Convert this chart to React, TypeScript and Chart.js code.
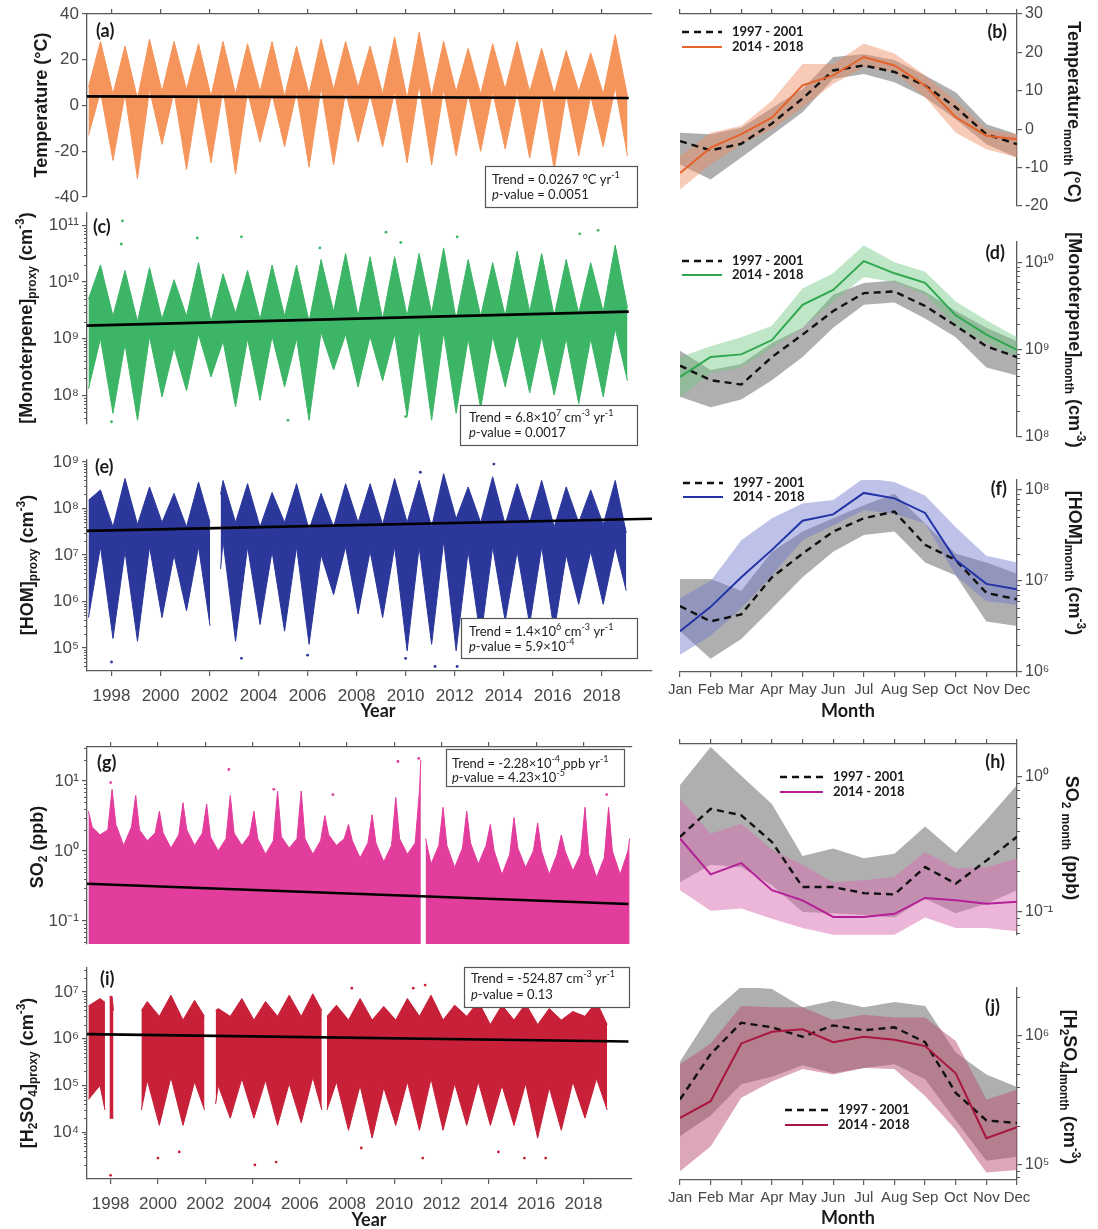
import React, { useEffect, useRef } from "react";
import { Chart, registerables } from "chart.js";

Chart.register(...registerables);

// ---------------- page / layout constants ----------------
const PAGE_W = 1098;
const PAGE_H = 1229;
const LEFT_X = 87;
const RIGHT_L = 680;
const RIGHT_R = 1017;
const Y_W = 60;
const TOP_H = 6;
const BOT_H = 44;
const FIRST_YEAR = 1997;
const X_MIN = 1997.0;
const X_MAX = 2020.05;

const FONT_SANS = "'Liberation Sans', Arial, Helvetica, sans-serif";
const FONT_CAL = "Lato, 'Open Sans', 'DejaVu Sans', sans-serif";
const AXIS_COLOR = "#5a5a5a";
const TICK_TEXT = "#474747";
const INK = "#1a1a1a";
const GRAY_BAND = "rgba(110,110,110,0.55)";

// ---------------- shared tick labels ----------------
const YEAR_TICKS = [1998, 2000, 2002, 2004, 2006, 2008, 2010, 2012, 2014, 2016, 2018];
const MONTHS = ["Jan", "Feb", "Mar", "Apr", "May", "Jun", "Jul", "Aug", "Sep", "Oct", "Nov", "Dec"];
const MONTH_TICKS = [1, 2, 3, 4, 5, 6, 7, 8, 9, 10, 11, 12];
const PERIODS = ["1997 - 2001", "2014 - 2018"];

// ---------------- (a) temperature, envelope of the daily scatter ----------------
const TEMP_TICKS = [-40, -20, 0, 20, 40];
const TEMP_WIN_HI = [8, 5, 3, 6, 7, 4, 5, 6, 4, 5, 7, 8, 5, 3, 4, 6, 5, 7, 6, 5, 6, 5, 4];
const TEMP_WIN_LO = [-13, -24, -32, -17, -28, -25, -30, -16, -18, -27, -26, -16, -18, -25, -26, -22, -20, -19, -23, -28, -22, -18, -22];
const TEMP_SUM_HI = [28, 26, 29, 28, 27, 28, 27, 28, 26, 29, 28, 26, 30, 32, 28, 25, 27, 28, 25, 24, 23, 31];
const TEMP_SUM_LO = [6, 5, 7, 6, 5, 7, 6, 5, 6, 8, 6, 5, 6, 9, 7, 5, 6, 6, 5, 5, 4, 8];
const TEMP_TREND_X = [1997.0, 2019.1];
const TEMP_TREND_Y = [4.0, 3.3];

// ---------------- (c) monoterpene proxy ----------------
const MONO_TICKS = [1e8, 1e9, 1e10, 1e11];
const MONO_WIN_HI = [5e9, 2.5e9, 2e9, 2.2e9, 2.5e9, 2e9, 2.8e9, 2.2e9, 2.5e9, 2e9, 3e9, 2.5e9, 2.2e9, 2.5e9, 2.8e9, 2.2e9, 2.5e9, 2.5e9, 3e9, 2.5e9, 2.8e9, 3e9, 3.5e9];
const MONO_WIN_LO = [1.3e8, 4.8e7, 3.6e7, 9.3e7, 1.2e8, 2.1e8, 6.2e7, 8.1e7, 1.4e8, 3.6e7, 2.8e8, 1.4e8, 1.8e8, 4.2e7, 3.6e7, 4.8e7, 5.8e7, 1.4e8, 1.1e8, 1.0e8, 7.1e7, 9.3e7, 1.8e8];
const MONO_SUM_HI = [2.0e10, 1.6e10, 1.8e10, 1.1e10, 2.2e10, 1.4e10, 1.6e10, 2.0e10, 2.0e10, 2.5e10, 3.2e10, 2.8e10, 2.8e10, 3.2e10, 4.0e10, 2.5e10, 2.2e10, 3.5e10, 3.2e10, 2.5e10, 2.2e10, 4.5e10];
const MONO_SUM_LO = [1.0e9, 8e8, 1.1e9, 7e8, 1.2e9, 9e8, 1.0e9, 1.1e9, 1.0e9, 1.3e9, 1.2e9, 1.1e9, 1.2e9, 1.5e9, 1.3e9, 1.0e9, 1.1e9, 1.2e9, 1.1e9, 1.0e9, 1.0e9, 1.5e9];
const MONO_SPARSE = [[1998.45, 1.2e11], [1998.4, 4.7e10], [2001.5, 6e10], [2003.3, 6.3e10], [2009.2, 7.6e10], [2009.8, 5e10], [2012.1, 6.3e10], [2017.1, 7.1e10], [2017.85, 8.2e10], [2006.5, 4e10], [1998.0, 3.4e7], [2010.0, 4.2e7], [2005.2, 3.6e7]];
const MONO_TREND_X = [1997.0, 2019.1];
const MONO_TREND_Y = [1.7e9, 3.0e9];

// ---------------- (e) HOM proxy ----------------
const HOM_TICKS = [1e5, 1e6, 1e7, 1e8, 1e9];
const HOM_WIN_HI = [1.5e8, 4e7, 4.5e7, 5e7, 4e7, 6e7, 5e7, 4e7, 5e7, 3.5e7, 4e7, 5e7, 4.5e7, 5e7, 4e7, 6e7, 5e7, 4.5e7, 5e7, 4e7, 5e7, 4.5e7, 3e7];
const HOM_WIN_LO = [4.5e5, 1.6e5, 1.4e5, 4.5e5, 6.3e5, 4.5e5, 1.4e5, 3.2e5, 2.3e5, 1.2e5, 1.4e6, 5.4e5, 4.5e5, 8.7e4, 1.2e5, 8.7e4, 1.6e5, 3.8e5, 3.2e5, 2.3e5, 8.7e5, 8.7e5, 1.7e6];
const HOM_SUM_HI = [2.5e8, 4.4e8, 2.9e8, 2.1e8, 3.7e8, 4.0e8, 3.4e8, 2.2e8, 3.4e8, 2.1e8, 3.4e8, 3.4e8, 4.4e8, 4.0e8, 5.6e8, 2.9e8, 4.8e8, 3.4e8, 4.0e8, 2.9e8, 2.5e8, 4.0e8];
const HOM_SUM_LO = [1.5e7, 1.2e7, 1.5e7, 1.0e7, 1.5e7, 2e7, 1.5e7, 1.2e7, 1.5e7, 1.0e7, 1.5e7, 1.2e7, 1.5e7, 1.5e7, 2e7, 1.2e7, 1.5e7, 1.2e7, 1.5e7, 1.0e7, 1.2e7, 1.5e7];
const HOM_GAPS = [[2002.02, 2002.45]];
const HOM_EDGES = [[2002.02, 5e7, 3e5], [2002.45, 2e8, 5e6]];
const HOM_SPARSE = [[2003.5, 1.2e9], [2011.5, 1.2e9], [2013.6, 9e8], [2010.6, 6e8], [1998.0, 5e4], [2010.0, 6e4], [2011.2, 4e4], [2012.1, 4e4], [2003.3, 6e4], [2006.0, 7e4], [2016.0, 1.5e5]];
const HOM_TREND_X = [1997.0, 2020.05];
const HOM_TREND_Y = [3.3e7, 6.0e7];

// ---------------- (g) SO2 ----------------
const SO2_TICKS = [0.1, 1, 10];
const SO2_WIN_HI = [3.7, 7.6, 6.2, 3.7, 4.9, 4.7, 6.2, 3.7, 7.2, 7.2, 3.2, 2.4, 3.3, 5.8, 7.2, 4.2, 3.7, 2.4, 3.0, 2.5, 1.7, 4.2, 4.2, 1.5];
const SO2_SPR_HI = [2.2, 2.4, 2.0, 1.8, 2.0, 1.6, 1.8, 1.5, 1.6, 1.5, 1.7, 1.4, 1.3, 1.5, 1.3, 1.2, 1.3, 1.0, 1.1, 1.0, 1.0, 0.9, 1.0];
const SO2_SUM_HI = [1.7, 1.2, 1.4, 1.1, 1.2, 1.0, 1.2, 0.9, 1.1, 0.9, 1.2, 0.8, 0.7, 0.9, 0.65, 0.58, 0.65, 0.46, 0.58, 0.46, 0.52, 0.42, 0.46];
const SO2_AUT_HI = [2.0, 2.2, 1.8, 1.7, 1.8, 1.5, 1.7, 1.4, 1.5, 1.4, 1.5, 1.3, 1.2, 1.3, 1.2, 1.1, 1.2, 0.9, 1.0, 0.9, 0.9, 0.8, 1.0];
const SO2_GAPS = [[2011.12, 2011.32]];
const SO2_EDGES = [[2011.12, 20, null], [2011.32, 1.5, null]];
const SO2_SPARSE = [[2011.03, 21], [2010.15, 19], [2014.7, 12.4], [2003.0, 14.6], [1998.0, 9.5], [2018.98, 6.4], [2007.4, 6.4], [2004.9, 7.6]];
const SO2_TREND_X = [1997.0, 2019.9];
const SO2_TREND_Y = [0.34, 0.175];

// ---------------- (i) H2SO4 proxy ----------------
const H2SO4_TICKS = [1e4, 1e5, 1e6, 1e7];
const H2SO4_WIN_HI = [5e6, 8e6, null, 3e6, 2.5e6, 2e6, 3e6, 2.5e6, 3e6, 3e6, 2e6, 2.5e6, 2.5e6, 2.5e6, 3e6, 2.5e6, 3e6, 2e6, 2.5e6, 2e6, 2.5e6, 3e6, 2e6];
const H2SO4_WIN_LO = [5e4, 2e4, null, 1.4e4, 1.4e4, 1.2e4, 2e4, 2e4, 1.4e4, 1.6e4, 1.4e4, 1.1e4, 7.5e3, 1.4e4, 1.1e4, 1.1e4, 1.4e4, 1.4e4, 1.4e4, 7.5e3, 1.1e4, 2e4, 3e4];
const H2SO4_SUM_HI = [7.2e6, null, 6.2e6, 8.5e6, 6.6e6, 4.4e6, 7.2e6, 6.2e6, 8.5e6, 9.1e6, 5.2e6, 7.2e6, 4.9e6, 7.2e6, 8.5e6, 5.2e6, 6.2e6, 5.2e6, 5.6e6, 4.4e6, 3.8e6, 6.2e6];
const H2SO4_SUM_LO = [1e5, null, 1.3e5, 1.5e5, 1.2e5, 1.0e5, 1.4e5, 1.3e5, 1.1e5, 1.5e5, 1.2e5, 1.0e5, 9e4, 1.2e5, 1.4e5, 1.1e5, 1.2e5, 1.0e5, 1.1e5, 9e4, 1.2e5, 1.4e5];
const H2SO4_GAPS = [[1997.76, 1997.95], [1998.12, 1999.3], [2001.97, 2002.44], [2006.93, 2007.15]];
const H2SO4_EDGES = [[1997.76, 6e6, 3e4], [1997.95, 8e6, 2e4], [1998.12, 4e6, 2e4], [1999.3, 4e6, 3e4], [2001.97, 3e6, 3e4], [2002.44, 4e6, 4e4], [2006.93, 4e6, 3e4], [2007.15, 3e6, 3e4]];
const H2SO4_SPARSE = [[1998.0, 1.2e3], [2000.0, 2.8e3], [2000.9, 3.8e3], [2004.1, 2e3], [2005.0, 2.3e3], [2011.2, 2.8e3], [2014.4, 3.8e3], [2015.5, 2.8e3], [2016.4, 2.8e3], [2008.6, 4.6e3], [2008.2, 1.2e7], [2011.3, 1.4e7], [2014.7, 1.9e7], [2010.8, 1.2e7]];
const H2SO4_TREND_X = [1997.0, 2019.9];
const H2SO4_TREND_Y = [1.25e6, 8.7e5];

// ---------------- (b) monthly temperature ----------------
const B_TICKS = [-20, -10, 0, 10, 20, 30];
const B_OLD = [-3.1, -5.5, -3.8, 1.5, 8.0, 15.3, 16.6, 14.9, 11.4, 5.7, -1.3, -3.9];
const B_OLD_HI = [-0.9, -1.3, 0.4, 5.5, 10.5, 18.8, 19.5, 18.0, 14.0, 9.6, 1.3, -1.3];
const B_OLD_LO = [-9.2, -13.1, -7.4, -1.5, 4.4, 13.1, 14.4, 12.2, 8.3, 2.6, -3.9, -7.4];
const B_NEW = [-11.4, -4.8, -1.3, 3.0, 11.4, 14.0, 18.8, 16.6, 11.4, 3.1, -1.7, -2.6];
const B_NEW_HI = [-7.0, -0.9, 0.9, 7.4, 17.0, 17.0, 22.3, 19.7, 14.0, 7.4, 0.0, -1.3];
const B_NEW_LO = [-15.7, -9.2, -3.9, 0.0, 5.7, 11.8, 16.2, 14.9, 8.3, -0.9, -5.2, -7.4];

// ---------------- (d) monthly monoterpene ----------------
const D_TICKS = [1e8, 1e9, 1e10];
const D_OLD = [6.6e8, 4.5e8, 4.0e8, 8.3e8, 1.5e9, 2.8e9, 4.5e9, 4.7e9, 3.2e9, 1.9e9, 1.1e9, 8.3e8];
const D_OLD_HI = [9.8e8, 5.9e8, 6.9e8, 1.2e9, 1.8e9, 4.3e9, 5.9e9, 6.3e9, 4.7e9, 2.8e9, 1.8e9, 1.26e9];
const D_OLD_LO = [2.9e8, 2.2e8, 2.7e8, 4.5e8, 8.3e8, 1.8e9, 3.3e9, 3.5e9, 2.3e9, 1.4e9, 6.3e8, 5.1e8];
const D_NEW = [4.9e8, 8.3e8, 8.9e8, 1.3e9, 3.3e9, 4.9e9, 1.05e10, 7.6e9, 5.9e9, 2.5e9, 1.5e9, 1.0e9];
const D_NEW_HI = [8.3e8, 1.1e9, 1.4e9, 1.9e9, 5.1e9, 7.6e9, 1.6e10, 1.02e10, 7.9e9, 3.6e9, 2.2e9, 1.4e9];
const D_NEW_LO = [2.9e8, 5.4e8, 6.3e8, 1.07e9, 1.8e9, 3.6e9, 6.9e9, 6.0e9, 4.3e9, 1.9e9, 1.2e9, 8.3e8];

// ---------------- (f) monthly HOM ----------------
const F_TICKS = [1e6, 1e7, 1e8];
const F_OLD = [5.3e6, 3.6e6, 4.3e6, 1.1e7, 2.0e7, 3.5e7, 4.9e7, 5.8e7, 2.5e7, 1.7e7, 7.4e6, 6.3e6];
const F_OLD_HI = [1.05e7, 1.05e7, 7.8e6, 2.1e7, 3.5e7, 4.9e7, 6.8e7, 9.1e7, 4.3e7, 2.0e7, 1.6e7, 1.2e7];
const F_OLD_LO = [2.8e6, 1.4e6, 2.3e6, 5.0e6, 1.1e7, 2.1e7, 3.2e7, 3.5e7, 1.6e7, 1.15e7, 3.6e6, 3.2e6];
const F_NEW = [2.8e6, 5.2e6, 1.1e7, 2.2e7, 4.6e7, 5.4e7, 9.3e7, 8.1e7, 5.6e7, 1.7e7, 9.3e6, 8.1e6];
const F_NEW_HI = [6.5e6, 1.0e7, 2.8e7, 4.9e7, 7.1e7, 7.8e7, 1.35e8, 1.23e8, 8.7e7, 3.9e7, 1.9e7, 1.6e7];
const F_NEW_LO = [1.55e6, 2.5e6, 5.0e6, 1.15e7, 2.8e7, 4.1e7, 6.0e7, 5.5e7, 4.3e7, 1.15e7, 6.0e6, 5.5e6];

// ---------------- (h) monthly SO2 ----------------
const H_TICKS = [0.1, 1];
const H_OLD = [0.36, 0.58, 0.52, 0.33, 0.153, 0.153, 0.138, 0.135, 0.215, 0.162, 0.24, 0.36];
const H_OLD_HI = [0.87, 1.66, 1.02, 0.63, 0.26, 0.295, 0.25, 0.27, 0.43, 0.275, 0.48, 0.87];
const H_OLD_LO = [0.166, 0.224, 0.214, 0.158, 0.1, 0.098, 0.095, 0.091, 0.126, 0.098, 0.115, 0.145];
const H_NEW = [0.35, 0.19, 0.23, 0.145, 0.122, 0.092, 0.092, 0.097, 0.127, 0.122, 0.115, 0.119];
const H_NEW_HI = [0.69, 0.38, 0.45, 0.29, 0.224, 0.166, 0.172, 0.182, 0.278, 0.21, 0.214, 0.25];
const H_NEW_LO = [0.145, 0.102, 0.106, 0.089, 0.076, 0.068, 0.068, 0.068, 0.091, 0.076, 0.076, 0.072];

// ---------------- (j) monthly H2SO4 ----------------
const J_TICKS = [1e5, 1e6];
const J_OLD = [3.2e5, 7.2e5, 1.26e6, 1.16e6, 9.8e5, 1.2e6, 1.1e6, 1.16e6, 8.9e5, 3.6e5, 2.2e5, 2.1e5];
const J_OLD_HI = [6.3e5, 1.48e6, 2.4e6, 2.3e6, 1.66e6, 1.86e6, 1.66e6, 1.82e6, 1.7e6, 7.4e5, 5.0e5, 4.0e5];
const J_OLD_LO = [1.66e5, 2.4e5, 4.2e5, 4.8e5, 5.9e5, 5.1e5, 5.6e5, 6.0e5, 4.6e5, 2.2e5, 1.07e5, 1.15e5];
const J_NEW = [2.3e5, 3.1e5, 8.7e5, 1.07e6, 1.12e6, 8.9e5, 9.8e5, 9.3e5, 8.3e5, 5.1e5, 1.6e5, 1.95e5];
const J_NEW_HI = [6.0e5, 8.7e5, 1.7e6, 1.66e6, 1.66e6, 1.32e6, 1.45e6, 1.38e6, 1.38e6, 9.1e5, 3.2e5, 3.8e5];
const J_NEW_LO = [8.9e4, 1.38e5, 3.3e5, 4.4e5, 5.5e5, 5.0e5, 5.6e5, 5.5e5, 3.4e5, 1.86e5, 8.7e4, 9.1e4];

// ---------------- helpers ----------------
const SUP: Record<string, string> = { "0": "⁰", "1": "¹", "2": "²", "3": "³", "4": "⁴", "5": "⁵", "6": "⁶", "7": "⁷", "8": "⁸", "9": "⁹", "-": "⁻" };
const sup = (s: string) => s.split("").map((c) => SUP[c] ?? c).join("");
const logLabel = (v: number) => {
  const e = Math.log10(v);
  const r = Math.round(e);
  return Math.abs(e - r) < 1e-6 ? "10" + sup(String(r)) : "";
};

type Run = { t: string; k?: "sub" | "sup"; it?: boolean };
type Row = { t: number; hi: number | null; lo: number | null };

function drawRich(ctx: CanvasRenderingContext2D, runs: Run[], x: number, y: number, o: { size: number; bold?: boolean; family: string; align?: string; rot?: number; color?: string }) {
  ctx.save();
  const fontOf = (r: Run) => `${r.it ? "italic " : ""}${o.bold ? "bold " : ""}${r.k ? Math.round(o.size * 0.66) : o.size}px ${o.family}`;
  const widths = runs.map((r) => {
    ctx.font = fontOf(r);
    return ctx.measureText(r.t).width;
  });
  const total = widths.reduce((a, b) => a + b, 0);
  ctx.translate(x, y);
  if (o.rot) ctx.rotate((o.rot * Math.PI) / 180);
  let cx = o.align === "center" ? -total / 2 : o.align === "right" ? -total : 0;
  ctx.fillStyle = o.color || INK;
  ctx.textAlign = "left";
  ctx.textBaseline = "middle";
  runs.forEach((r, i) => {
    ctx.font = fontOf(r);
    const dy = r.k === "sub" ? o.size * 0.32 : r.k === "sup" ? -o.size * 0.36 : 0;
    ctx.fillText(r.t, cx, dy);
    cx += widths[i];
  });
  ctx.restore();
}

function drawMinorTicks(chart: any, side: "left" | "right") {
  const s = chart.scales.y;
  const ctx = chart.ctx as CanvasRenderingContext2D;
  const lo = Math.floor(Math.log10(s.min));
  const hi = Math.ceil(Math.log10(s.max));
  const x0 = side === "left" ? chart.chartArea.left : chart.chartArea.right;
  const dir = side === "left" ? -1 : 1;
  ctx.save();
  ctx.strokeStyle = AXIS_COLOR;
  ctx.lineWidth = 1;
  for (let e = lo; e <= hi; e++) {
    for (let m = 2; m <= 9; m++) {
      const v = m * Math.pow(10, e);
      if (v < s.min || v > s.max) continue;
      const py = Math.round(s.getPixelForValue(v)) + 0.5;
      ctx.beginPath();
      ctx.moveTo(x0, py);
      ctx.lineTo(x0 + dir * 3, py);
      ctx.stroke();
    }
  }
  ctx.restore();
}

function buildRows(seasons: { off: number; hi: (number | null)[]; lo?: (number | null)[] }[], end: number, gaps: number[][], edges: (number | null)[][]): Row[] {
  const rows: Row[] = [];
  seasons.forEach((s) => {
    s.hi.forEach((v, k) => {
      const t = Math.min(Math.max(FIRST_YEAR + k + s.off, X_MIN), end);
      rows.push({ t, hi: v, lo: s.lo ? s.lo[k] : null });
    });
  });
  edges.forEach((e) => rows.push({ t: e[0] as number, hi: e[1], lo: e[2] }));
  const kept = rows.filter((r) => r.t <= end && !gaps.some((g) => r.t > g[0] && r.t < g[1]));
  gaps.forEach((g) => kept.push({ t: (g[0] + g[1]) / 2, hi: null, lo: null }));
  return kept.sort((a, b) => a.t - b.t);
}

const axisGrid = () => ({ display: true, drawOnChartArea: false, drawTicks: true, tickLength: 5, color: AXIS_COLOR, tickColor: AXIS_COLOR, tickWidth: 1.2, lineWidth: 1.2 });
const axisBorder = () => ({ display: true, color: AXIS_COLOR, width: 1.3 });

function yAxis(side: string, type: string, min: number, max: number, ticks: number[], size: number) {
  return {
    type,
    position: side,
    min,
    max,
    bounds: "data",
    afterBuildTicks: (s: any) => {
      s.ticks = ticks.map((v) => ({ value: v }));
    },
    afterFit: (s: any) => {
      s.width = Y_W;
    },
    grid: axisGrid(),
    border: axisBorder(),
    ticks: {
      autoSkip: false,
      color: TICK_TEXT,
      font: { family: FONT_SANS, size },
      padding: 3,
      callback: (v: number) => (type === "logarithmic" ? logLabel(v) : String(v)),
    },
  };
}

function xBottom(min: number, max: number, ticks: number[], labelFn: (v: number) => string, size: number, pad: number, show: boolean) {
  const ax: any = {
    type: "linear",
    position: "bottom",
    min,
    max,
    bounds: "data",
    display: show,
    afterBuildTicks: (s: any) => {
      s.ticks = ticks.map((v) => ({ value: v }));
    },
    grid: axisGrid(),
    border: axisBorder(),
    ticks: { autoSkip: false, maxRotation: 0, minRotation: 0, color: TICK_TEXT, font: { family: FONT_SANS, size }, padding: pad, callback: labelFn },
  };
  if (show) ax.afterFit = (s: any) => { s.height = BOT_H; };
  return ax;
}

function xTop(min: number, max: number, ticks: number[]) {
  return {
    type: "linear",
    position: "top",
    min,
    max,
    bounds: "data",
    display: true,
    afterBuildTicks: (s: any) => {
      s.ticks = ticks.map((v) => ({ value: v }));
    },
    afterFit: (s: any) => {
      s.height = TOP_H;
    },
    grid: axisGrid(),
    border: axisBorder(),
    ticks: { display: false },
  };
}

function makeConfig(datasets: any[], scales: any, padding: any, deco: (c: any) => void) {
  return {
    type: "line",
    data: { datasets },
    options: {
      responsive: false,
      animation: false,
      events: [],
      layout: { padding },
      plugins: { legend: { display: false }, tooltip: { enabled: false }, title: { display: false } },
      elements: { line: { tension: 0 }, point: { radius: 0 } },
      scales,
    },
    plugins: [{ id: "deco", afterDraw: (chart: any) => deco(chart) }],
  };
}

function leftPanel(p: any) {
  const padding = {
    left: LEFT_X - Y_W,
    right: PAGE_W - p.right,
    top: p.topAxis ? p.top - TOP_H : p.top,
    bottom: p.bottomAxis ? PAGE_H - p.bottom - BOT_H : PAGE_H - p.bottom,
  };
  const datasets: any[] = [
    { label: "trend", data: p.trendX.map((x: number, i: number) => ({ x, y: p.trendY[i] })), borderColor: "#000", borderWidth: 2.6, pointRadius: 0, fill: false },
    { label: "sparse", data: p.sparse.map((o: number[]) => ({ x: o[0], y: o[1] })), showLine: false, pointRadius: 1.4, pointBackgroundColor: p.color, pointBorderWidth: 0, borderColor: p.color, backgroundColor: p.color, fill: false },
    { label: "upper", data: p.rows.map((r: Row) => ({ x: r.t, y: r.hi })), borderColor: p.color, backgroundColor: p.color, borderWidth: 1, pointRadius: 0, fill: p.hasLo ? 3 : "start" },
  ];
  if (p.hasLo) datasets.push({ label: "lower", data: p.rows.map((r: Row) => ({ x: r.t, y: r.lo })), borderColor: p.color, borderWidth: 1, pointRadius: 0, fill: false });
  const scales: any = {
    x: xBottom(X_MIN, X_MAX, YEAR_TICKS, (v: number) => String(v), 17, 10, p.bottomAxis),
    y: yAxis("left", p.yType, p.yMin, p.yMax, p.yTicks, 17),
  };
  if (p.topAxis) scales.x2 = xTop(X_MIN, X_MAX, YEAR_TICKS);
  const deco = (chart: any) => {
    const ctx = chart.ctx as CanvasRenderingContext2D;
    if (p.yType === "logarithmic") drawMinorTicks(chart, "left");
    drawRich(ctx, p.title, p.titleX, p.titleY, { size: 18, bold: true, family: FONT_SANS, align: "center", rot: -90 });
    drawRich(ctx, [{ t: p.label }], p.labelX, p.labelY, { size: 18, bold: true, family: FONT_CAL });
    const [bl, bt, br, bb] = p.box;
    ctx.save();
    ctx.fillStyle = "#fff";
    ctx.fillRect(bl, bt, br - bl, bb - bt);
    ctx.strokeStyle = "#555";
    ctx.lineWidth = 1.2;
    ctx.strokeRect(bl + 0.5, bt + 0.5, br - bl, bb - bt);
    ctx.restore();
    drawRich(ctx, p.line1, p.textX, p.textY[0], { size: 13, family: FONT_CAL, color: "#222" });
    drawRich(ctx, p.line2, p.textX, p.textY[1], { size: 13, family: FONT_CAL, color: "#222" });
    if (p.xTitle) drawRich(ctx, [{ t: "Year" }], p.xTitle[0], p.xTitle[1], { size: 18, bold: true, family: FONT_CAL, align: "center" });
  };
  return makeConfig(datasets, scales, padding, deco);
}

function rightPanel(p: any) {
  const padding = {
    left: RIGHT_L,
    right: PAGE_W - RIGHT_R - Y_W,
    top: p.topAxis ? p.top - TOP_H : p.top,
    bottom: p.bottomAxis ? PAGE_H - p.bottom - BOT_H : PAGE_H - p.bottom,
  };
  const mk = (arr: number[]) => arr.map((v, i) => ({ x: MONTH_TICKS[i], y: v }));
  const clear = "rgba(0,0,0,0)";
  const datasets: any[] = [
    { label: PERIODS[1], data: mk(p.newMean), borderColor: p.lineColor, borderWidth: 2, pointRadius: 0, fill: false },
    { label: PERIODS[0], data: mk(p.oldMean), borderColor: "#111", borderWidth: 2.4, borderDash: [7, 5], pointRadius: 0, fill: false },
    { label: "new band hi", data: mk(p.newHi), borderColor: clear, backgroundColor: p.bandColor, pointRadius: 0, fill: 3 },
    { label: "new band lo", data: mk(p.newLo), borderColor: clear, pointRadius: 0, fill: false },
    { label: "old band hi", data: mk(p.oldHi), borderColor: clear, backgroundColor: GRAY_BAND, pointRadius: 0, fill: 5 },
    { label: "old band lo", data: mk(p.oldLo), borderColor: clear, pointRadius: 0, fill: false },
  ];
  const scales: any = {
    x: xBottom(1, 12, MONTH_TICKS, (v: number) => MONTHS[v - 1], 15, 4, p.bottomAxis),
    y: yAxis("right", p.yType, p.yMin, p.yMax, p.yTicks, 16),
  };
  if (p.topAxis) scales.x2 = xTop(1, 12, MONTH_TICKS);
  const deco = (chart: any) => {
    const ctx = chart.ctx as CanvasRenderingContext2D;
    if (p.yType === "logarithmic") drawMinorTicks(chart, "right");
    drawRich(ctx, p.title, p.titleX, p.titleY, { size: 18, bold: true, family: FONT_SANS, align: "center", rot: 90 });
    drawRich(ctx, [{ t: p.label }], p.labelX, p.labelY, { size: 18, bold: true, family: FONT_CAL, align: "right" });
    const [x0, x1, y1, y2] = p.legend;
    ctx.save();
    ctx.lineWidth = 2.4;
    ctx.strokeStyle = "#111";
    ctx.setLineDash([7, 5]);
    ctx.beginPath();
    ctx.moveTo(x0, y1);
    ctx.lineTo(x1, y1);
    ctx.stroke();
    ctx.setLineDash([]);
    ctx.lineWidth = 2;
    ctx.strokeStyle = p.lineColor;
    ctx.beginPath();
    ctx.moveTo(x0, y2);
    ctx.lineTo(x1, y2);
    ctx.stroke();
    ctx.restore();
    drawRich(ctx, [{ t: PERIODS[0] }], x1 + 10, y1, { size: 13, bold: true, family: FONT_CAL });
    drawRich(ctx, [{ t: PERIODS[1] }], x1 + 10, y2, { size: 13, bold: true, family: FONT_CAL });
    if (p.xTitle) drawRich(ctx, [{ t: "Month" }], p.xTitle[0], p.xTitle[1], { size: 18, bold: true, family: FONT_CAL, align: "center" });
  };
  return makeConfig(datasets, scales, padding, deco);
}

const P_RUN: Run = { t: "p", it: true };

const PANELS: (() => any)[] = [
  // (a)
  () =>
    leftPanel({
      top: 14, bottom: 197, right: 652, yType: "linear", yMin: -40, yMax: 40, yTicks: TEMP_TICKS, color: "#F5955C",
      rows: buildRows([{ off: 0.06, hi: TEMP_WIN_HI, lo: TEMP_WIN_LO }, { off: 0.55, hi: TEMP_SUM_HI, lo: TEMP_SUM_LO }], 2019.05, [], []),
      hasLo: true, sparse: [], trendX: TEMP_TREND_X, trendY: TEMP_TREND_Y, topAxis: true, bottomAxis: false,
      title: [{ t: "Temperature (°C)" }], titleX: 42, titleY: 105, label: "(a)", labelX: 96, labelY: 31,
      box: [485, 166, 637, 207], textX: 492, textY: [180, 195],
      line1: [{ t: "Trend = 0.0267 °C yr" }, { t: "-1", k: "sup" }], line2: [P_RUN, { t: "-value = 0.0051" }],
    }),
  // (c)
  () =>
    leftPanel({
      top: 213, bottom: 424, right: 652, yType: "logarithmic", yMin: 3.1e7, yMax: 1.66e11, yTicks: MONO_TICKS, color: "#3DB566",
      rows: buildRows([{ off: 0.06, hi: MONO_WIN_HI, lo: MONO_WIN_LO }, { off: 0.55, hi: MONO_SUM_HI, lo: MONO_SUM_LO }], 2019.05, [], []),
      hasLo: true, sparse: MONO_SPARSE, trendX: MONO_TREND_X, trendY: MONO_TREND_Y, topAxis: false, bottomAxis: false,
      title: [{ t: "[Monoterpene]" }, { t: "proxy", k: "sub" }, { t: " (cm" }, { t: "-3", k: "sup" }, { t: ")" }], titleX: 27, titleY: 318,
      label: "(c)", labelX: 93, labelY: 227,
      box: [460, 405, 637, 445], textX: 469, textY: [418, 433],
      line1: [{ t: "Trend = 6.8×10" }, { t: "7", k: "sup" }, { t: " cm" }, { t: "-3", k: "sup" }, { t: " yr" }, { t: "-1", k: "sup" }],
      line2: [P_RUN, { t: "-value = 0.0017" }],
    }),
  // (e)
  () =>
    leftPanel({
      top: 460, bottom: 671, right: 652, yType: "logarithmic", yMin: 3.2e4, yMax: 1.1e9, yTicks: HOM_TICKS, color: "#2B379B",
      rows: buildRows([{ off: 0.06, hi: HOM_WIN_HI, lo: HOM_WIN_LO }, { off: 0.55, hi: HOM_SUM_HI, lo: HOM_SUM_LO }], 2019.0, HOM_GAPS, HOM_EDGES),
      hasLo: true, sparse: HOM_SPARSE, trendX: HOM_TREND_X, trendY: HOM_TREND_Y, topAxis: false, bottomAxis: true,
      title: [{ t: "[HOM]" }, { t: "proxy", k: "sub" }, { t: " (cm" }, { t: "-3", k: "sup" }, { t: ")" }], titleX: 28, titleY: 565,
      label: "(e)", labelX: 95, labelY: 467,
      box: [461, 618, 637, 658], textX: 469, textY: [632, 647],
      line1: [{ t: "Trend = 1.4×10" }, { t: "6", k: "sup" }, { t: " cm" }, { t: "-3", k: "sup" }, { t: " yr" }, { t: "-1", k: "sup" }],
      line2: [P_RUN, { t: "-value = 5.9×10" }, { t: "-4", k: "sup" }],
      xTitle: [378, 711],
    }),
  // (g)
  () =>
    leftPanel({
      top: 747, bottom: 944, right: 632, yType: "logarithmic", yMin: 0.0469, yMax: 30.6, yTicks: SO2_TICKS, color: "#E23C9C",
      rows: buildRows(
        [{ off: 0.06, hi: SO2_WIN_HI }, { off: 0.22, hi: SO2_SPR_HI }, { off: 0.55, hi: SO2_SUM_HI }, { off: 0.88, hi: SO2_AUT_HI }],
        2019.95, SO2_GAPS, SO2_EDGES
      ),
      hasLo: false, sparse: SO2_SPARSE, trendX: SO2_TREND_X, trendY: SO2_TREND_Y, topAxis: true, bottomAxis: false,
      title: [{ t: "SO" }, { t: "2", k: "sub" }, { t: " (ppb)" }], titleX: 38, titleY: 847,
      label: "(g)", labelX: 97, labelY: 763,
      box: [446, 749, 624, 786], textX: 452, textY: [764, 778],
      line1: [{ t: "Trend = -2.28×10" }, { t: "-4", k: "sup" }, { t: " ppb yr" }, { t: "-1", k: "sup" }],
      line2: [P_RUN, { t: "-value = 4.23×10" }, { t: "-5", k: "sup" }],
    }),
  // (i)
  () =>
    leftPanel({
      top: 968, bottom: 1179, right: 632, yType: "logarithmic", yMin: 1000, yMax: 3.24e7, yTicks: H2SO4_TICKS, color: "#C72038",
      rows: buildRows([{ off: 0.06, hi: H2SO4_WIN_HI, lo: H2SO4_WIN_LO }, { off: 0.55, hi: H2SO4_SUM_HI, lo: H2SO4_SUM_LO }], 2019.0, H2SO4_GAPS, H2SO4_EDGES),
      hasLo: true, sparse: H2SO4_SPARSE, trendX: H2SO4_TREND_X, trendY: H2SO4_TREND_Y, topAxis: false, bottomAxis: true,
      title: [{ t: "[H" }, { t: "2", k: "sub" }, { t: "SO" }, { t: "4", k: "sub" }, { t: "]" }, { t: "proxy", k: "sub" }, { t: " (cm" }, { t: "-3", k: "sup" }, { t: ")" }],
      titleX: 28, titleY: 1073, label: "(i)", labelX: 100, labelY: 979,
      box: [464, 967, 629, 1007], textX: 471, textY: [979, 995],
      line1: [{ t: "Trend = -524.87 cm" }, { t: "-3", k: "sup" }, { t: " yr" }, { t: "-1", k: "sup" }],
      line2: [P_RUN, { t: "-value = 0.13" }],
      xTitle: [369, 1220],
    }),
  // (b)
  () =>
    rightPanel({
      top: 14, bottom: 206, yType: "linear", yMin: -20, yMax: 30, yTicks: B_TICKS, topAxis: true, bottomAxis: false,
      oldMean: B_OLD, oldHi: B_OLD_HI, oldLo: B_OLD_LO, newMean: B_NEW, newHi: B_NEW_HI, newLo: B_NEW_LO,
      lineColor: "#E5632B", bandColor: "rgba(238,140,95,0.45)",
      title: [{ t: "Temperature" }, { t: "month", k: "sub" }, { t: " (°C)" }], titleX: 1073, titleY: 112,
      label: "(b)", labelX: 1007, labelY: 32, legend: [682, 722, 32, 47],
    }),
  // (d)
  () =>
    rightPanel({
      top: 242, bottom: 437, yType: "logarithmic", yMin: 1e8, yMax: 1.74e10, yTicks: D_TICKS, topAxis: false, bottomAxis: false,
      oldMean: D_OLD, oldHi: D_OLD_HI, oldLo: D_OLD_LO, newMean: D_NEW, newHi: D_NEW_HI, newLo: D_NEW_LO,
      lineColor: "#2FA84F", bandColor: "rgba(110,200,130,0.45)",
      title: [{ t: "[Monoterpene]" }, { t: "month", k: "sub" }, { t: " (cm" }, { t: "-3", k: "sup" }, { t: ")" }], titleX: 1074, titleY: 340,
      label: "(d)", labelX: 1005, labelY: 253, legend: [682, 722, 261, 275],
    }),
  // (f)
  () =>
    rightPanel({
      top: 480, bottom: 672, yType: "logarithmic", yMin: 1e6, yMax: 1.29e8, yTicks: F_TICKS, topAxis: false, bottomAxis: true,
      oldMean: F_OLD, oldHi: F_OLD_HI, oldLo: F_OLD_LO, newMean: F_NEW, newHi: F_NEW_HI, newLo: F_NEW_LO,
      lineColor: "#2433A6", bandColor: "rgba(110,120,205,0.45)",
      title: [{ t: "[HOM]" }, { t: "month", k: "sub" }, { t: " (cm" }, { t: "-3", k: "sup" }, { t: ")" }], titleX: 1074, titleY: 563,
      label: "(f)", labelX: 1007, labelY: 489, legend: [683, 723, 483, 497], xTitle: [848, 711],
    }),
  // (h)
  () =>
    rightPanel({
      top: 744, bottom: 935, yType: "logarithmic", yMin: 0.0676, yMax: 1.75, yTicks: H_TICKS, topAxis: true, bottomAxis: false,
      oldMean: H_OLD, oldHi: H_OLD_HI, oldLo: H_OLD_LO, newMean: H_NEW, newHi: H_NEW_HI, newLo: H_NEW_LO,
      lineColor: "#B51F97", bandColor: "rgba(215,110,175,0.5)",
      title: [{ t: "SO" }, { t: "2", k: "sub" }, { t: " " }, { t: "month", k: "sub" }, { t: " (ppb)" }], titleX: 1071, titleY: 838,
      label: "(h)", labelX: 1005, labelY: 762, legend: [780, 823, 777, 792],
    }),
  // (j)
  () =>
    rightPanel({
      top: 988, bottom: 1180, yType: "logarithmic", yMin: 7.6e4, yMax: 2.34e6, yTicks: J_TICKS, topAxis: false, bottomAxis: true,
      oldMean: J_OLD, oldHi: J_OLD_HI, oldLo: J_OLD_LO, newMean: J_NEW, newHi: J_NEW_HI, newLo: J_NEW_LO,
      lineColor: "#A8163F", bandColor: "rgba(185,80,110,0.5)",
      title: [{ t: "[H" }, { t: "2", k: "sub" }, { t: "SO" }, { t: "4", k: "sub" }, { t: "]" }, { t: "month", k: "sub" }, { t: " (cm" }, { t: "-3", k: "sup" }, { t: ")" }],
      titleX: 1069, titleY: 1087, label: "(j)", labelX: 1000, labelY: 1007, legend: [785, 828, 1110, 1125], xTitle: [848, 1218],
    }),
];

export default function App() {
  const refs = useRef<(HTMLCanvasElement | null)[]>([]);
  useEffect(() => {
    const charts = PANELS.map((make, i) => new Chart(refs.current[i] as HTMLCanvasElement, make()));
    return () => charts.forEach((c) => c.destroy());
  }, []);
  return (
    <div style={{ position: "absolute", left: 0, top: 0, width: PAGE_W, height: PAGE_H, background: "#fff", overflow: "hidden" }}>
      {PANELS.map((_, i) => (
        <canvas
          key={i}
          ref={(el) => {
            refs.current[i] = el;
          }}
          width={PAGE_W}
          height={PAGE_H}
          style={{ position: "absolute", left: 0, top: 0, width: PAGE_W, height: PAGE_H }}
        />
      ))}
    </div>
  );
}
